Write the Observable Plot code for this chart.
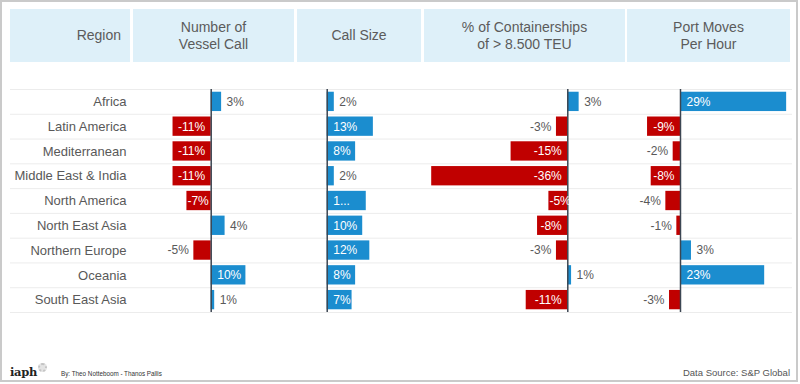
<!DOCTYPE html>
<html>
<head>
<meta charset="utf-8">
<script src="https://cdn.jsdelivr.net/npm/d3@7"></script>
<script src="https://cdn.jsdelivr.net/npm/@observablehq/plot@0.6"></script>
<style>
  html, body { margin: 0; padding: 0; background: #fff; }
  body { font-family: "Liberation Sans", Arial, sans-serif; }
  #wrap { position: relative; width: 800px; height: 384px; overflow: hidden; }
  #frame { position: absolute; left: 0; top: 0; width: 798px; height: 382px; box-sizing: border-box; border: 2px solid #cacaca; }
  .hdr { position: absolute; top: 9px; height: 53px; background: #def0f9; color: #5b5b5b; font-size: 14px; line-height: 17px; display: flex; align-items: center; justify-content: center; text-align: center; white-space: pre; }
  .hdr.first { justify-content: flex-end; padding-right: 9px; box-sizing: border-box; }
  .col { position: absolute; top: 88px; }
  .col svg { overflow: visible; display: block; }
  #by { position: absolute; left: 61px; top: 370px; font-size: 6.3px; color: #333; white-space: nowrap; }
  #src { position: absolute; right: 10px; top: 367px; font-size: 9.5px; color: #555; white-space: nowrap; }
  #logo { position: absolute; left: 10px; top: 365px; font-family: "DejaVu Serif", serif; font-weight: bold; font-size: 11.5px; color: #222; letter-spacing: -0.3px; }
  #gear { position: absolute; left: 38px; top: 363px; width: 5px; height: 5px; border-radius: 50%; border: 2px dotted #c4c4c4; background: #e4e4e4; }
</style>
</head>
<body>
<div id="wrap">
  <div id="frame"></div>
  <div id="headers"></div>
  <div id="cols"></div>
  <div id="logo">iaph</div>
  <div id="gear"></div>
  <div id="by"></div>
  <div id="src"></div>
</div>
<script>
// ---- data ----
const regions = ["Africa", "Latin America", "Mediterranean", "Middle East & India", "North America", "North East Asia", "Northern Europe", "Oceania", "South East Asia"];
const headers = ["Region", "Number of\nVessel Call", "Call Size", "% of Containerships\nof > 8.500 TEU", "Port Moves\nPer Hour"];
const vesselCalls = [3, -11, -11, -11, -7, 4, -5, 10, 1];
const callSize = [2, 13, 8, 2, 11, 10, 12, 8, 7];
const largeShips = [3, -3, -15, -36, -5, -8, -3, 1, -11];
const portMoves = [29, -9, -2, -8, -4, -1, 3, 23, -3];
const callSizeLabels = [null, null, null, null, "1...", null, null, null, null]; // truncated label as shown in source
const byline = "By: Theo Notteboom - Thanos Pallis";
const source = "Data Source: S&P Global";

// ---- layout / style ----
const BLUE = "#1b8dcf", RED = "#c00000", AXIS = "#3c4652", GRID = "#ececec", LABEL = "#595959";
const FONT = '"Liberation Sans", Arial, sans-serif';
const headerBoxes = [[10, 120], [133, 161], [297, 124], [424, 201], [627, 163]];
const colBoxes = [
  {left: 132, width: 164, domain: [-22.68, 24.58]},
  {left: 296, width: 127, domain: [-8.65, 27.12]},
  {left: 423, width: 203, domain: [-38.17, 15.53]},
  {left: 626, width: 166, domain: [-14.75, 30.6]}
];
const H = 225, MT = 1, MB = 1;
const STEP = (H - MT - MB) / regions.length;

// headers
const hd = document.getElementById("headers");
headers.forEach((h, i) => {
  const d = document.createElement("div");
  d.className = "hdr" + (i === 0 ? " first" : "");
  d.style.left = headerBoxes[i][0] + "px";
  d.style.width = headerBoxes[i][1] + "px";
  d.textContent = h;
  hd.appendChild(d);
});
document.getElementById("by").textContent = byline;
document.getElementById("src").textContent = source;

const yScale = {domain: regions, axis: null, paddingInner: 0.22, paddingOuter: 0.11, round: false};
function gridMarks() {
  return [
    Plot.ruleY(regions, {y: d => d, dy: -STEP / 2, stroke: GRID, strokeWidth: 1}),
    Plot.ruleY(regions.slice(-1), {y: d => d, dy: STEP / 2, stroke: GRID, strokeWidth: 1})
  ];
}

const cols = document.getElementById("cols");
function place(svg, left) {
  const d = document.createElement("div");
  d.className = "col";
  d.style.left = left + "px";
  d.appendChild(svg);
  cols.appendChild(d);
}

// region labels
place(Plot.plot({
  width: 122, height: H, marginTop: MT, marginBottom: MB, marginLeft: 0, marginRight: 0,
  x: {axis: null}, y: yScale,
  style: {fontFamily: FONT, background: "transparent"},
  marks: [
    ...gridMarks(),
    Plot.text(regions, {y: d => d, text: d => d, frameAnchor: "right", textAnchor: "end", dx: -6, fontSize: 13, fill: LABEL})
  ]
}), 10);

function colPlot(values, cfg, overrides) {
  const k = cfg.width / (cfg.domain[1] - cfg.domain[0]);
  const rows = regions.map((r, i) => {
    const v = values[i];
    const px = Math.abs(v) * k;
    return {region: r, v, px, label: (overrides && overrides[i]) || `${v}%`, inside: px >= 18};
  });
  const posIn = rows.filter(d => d.inside && d.v >= 0);
  const negIn = rows.filter(d => d.inside && d.v < 0 && d.px >= 26);
  const negInShort = rows.filter(d => d.inside && d.v < 0 && d.px < 26);
  const posOut = rows.filter(d => !d.inside && d.v >= 0);
  const negOut = rows.filter(d => !d.inside && d.v < 0);
  return Plot.plot({
    width: cfg.width, height: H, marginTop: MT, marginBottom: MB, marginLeft: 0, marginRight: 0,
    x: {domain: cfg.domain, axis: null},
    y: yScale,
    color: {type: "identity"},
    style: {fontFamily: FONT, background: "transparent"},
    marks: [
      ...gridMarks(),
      Plot.barX(rows, {x1: d => 0, x2: "v", y: "region", fill: d => d.v < 0 ? RED : BLUE}),
      Plot.ruleX([0], {stroke: AXIS, strokeWidth: 1.5}),
      Plot.text(posIn, {x: d => 0, y: "region", text: "label", textAnchor: "start", dx: 6, fill: "white", fontSize: 12}),
      Plot.text(negIn, {x: d => 0, y: "region", text: "label", textAnchor: "end", dx: -6, fill: "white", fontSize: 12}),
      Plot.text(negInShort, {x: "v", y: "region", text: "label", textAnchor: "start", dx: 0.5, fill: "white", fontSize: 12}),
      Plot.text(posOut, {x: "v", y: "region", text: "label", textAnchor: "start", dx: 5, fill: LABEL, fontSize: 12}),
      Plot.text(negOut, {x: "v", y: "region", text: "label", textAnchor: "end", dx: -5, fill: LABEL, fontSize: 12})
    ]
  });
}

place(colPlot(vesselCalls, colBoxes[0]), colBoxes[0].left);
place(colPlot(callSize, colBoxes[1], callSizeLabels), colBoxes[1].left);
place(colPlot(largeShips, colBoxes[2]), colBoxes[2].left);
place(colPlot(portMoves, colBoxes[3]), colBoxes[3].left);
</script>
</body>
</html>
